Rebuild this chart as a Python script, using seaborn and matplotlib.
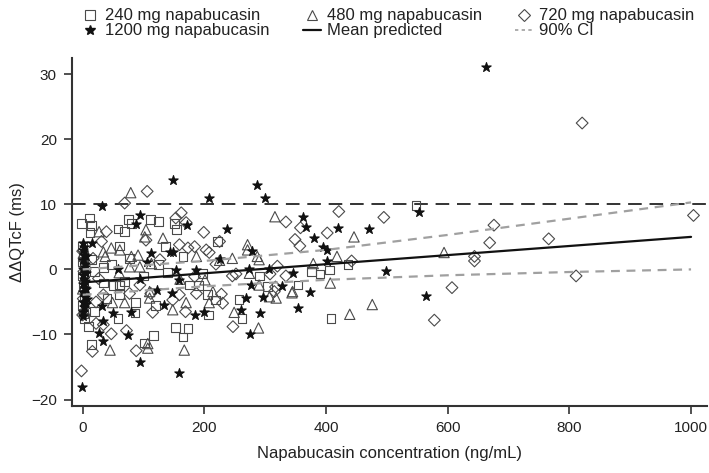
import numpy as np
import pandas as pd
import matplotlib
matplotlib.use("Agg")
import matplotlib.pyplot as plt
import seaborn as sns
from matplotlib.lines import Line2D

# ---------------------------------------------------------
# DATA
# ---------------------------------------------------------
conc_240 = [0, 1, 2, 0, 1, 2, 0, 1, 3, 0, 2,
            -2, 11, 15, 12, 75, 80, 112, 124, 58, 69, 151, 154, 61, 136, 34, 47, 20,
            124, 34, 60, 69, 165, 15, 102, 116, 165, 153, 173, 9, 58, 19, 86, 87, 120,
            50, 61, 60, 176, 190, 205, 218, 207, 262, 257, 304, 354, 291, 197, 222,
            436, 406, 376, 390, 408, 548, 14, 40, 100, 140, 77]
dqt_240 = [3.5, 2.0, 0.5, -1.0, -2.5, -4.0, -5.5, -6.8, -7.5, 1.2, -3.2,
           7.1, 7.9, 6.8, 5.7, 7.7, 7.1, 7.7, 7.4, 6.2, 5.8, 7.1, 6.1, 3.6, 3.5, 0.3, 0.7, -0.3,
           0.7, -2.1, -2.4, -1.9, 2.0, -11.5, -11.3, -10.1, -10.4, -8.9, -9.1, -8.8, -7.5, -6.5, -6.7, -5.1, -5.6,
           -2.5, -2.5, -3.8, -2.4, -2.5, -3.9, -4.7, -7.0, -7.5, -4.6, -2.6, -2.4, -1.0, -0.6, 4.3,
           0.7, -0.1, -0.3, -0.7, -7.5, 9.8, 1.5, -4.5, -1.0, -0.5, 1.7]

conc_480 = [1, 0, 2,
            79, 27, 104, 102, 47, 34, 61, 132, 80, 91, 77, 94, 113, 37, 45, 107, 107,
            167, 49, 69, 148, 110, 170, 110, 187, 225, 201, 214, 208, 249, 289, 307,
            318, 344, 274, 290, 345, 407, 476, 439, 316, 446, 271, 271, 246, 287, 290,
            418, 379, 594, 160, 60]
dqt_480 = [2.5, -3.0, -6.0,
           11.8, 5.8, 6.1, 5.0, 3.3, 2.7, 3.0, 4.8, 2.0, 2.2, 0.4, 0.4, 0.9, 2.0, -12.4, -11.4, -12.1,
           -12.4, -5.1, -5.1, -6.2, -4.4, -5.1, -3.4, 2.0, 1.4, -1.6, -3.4, -5.1, -6.6, -9.0, -4.2,
           -4.4, -3.6, -0.6, -2.4, -3.4, -2.1, -5.4, -6.9, 8.1, 5.0, 3.8, 3.0, 1.7, 2.0, 1.5,
           2.0, 0.9, 2.6, -1.5, -0.5]

conc_720 = [0, 2, 1, 0,
            106, 69, 162, 153, 170, 39, 104, 31, 159, 173, 127, 17, 26, -2, 16, 88,
            47, 72, 22, 34, 22, 115, 112, 159, 148, 169, 34, 77, 94, 187, 230, 228,
            247, 315, 317, 199, 225, 203, 208, 219, 184, 184, 246, 252, 308, 334, 320,
            334, 421, 495, 358, 402, 349, 357, 442, 676, 669, 766, 644, 644, 811, 607,
            578, 821, 1004]
dqt_720 = [2.8, -0.3, -4.5, -7.0,
           12.0, 10.2, 8.7, 7.9, 7.2, 5.8, 4.5, 4.3, 3.8, 3.3, 1.5, 1.7, -1.4, -15.6, -12.6, -12.5,
           -9.9, -9.4, -8.3, -8.5, -5.0, -6.6, -3.7, -3.9, -4.7, -6.5, -3.9, -3.7, -2.4, -3.7, -5.2, -3.8,
           -8.8, -3.4, -2.7, 5.7, 4.3, 3.0, 2.6, 0.8, 3.5, -1.1, -1.0, -0.7, -0.7, -1.0, 0.5,
           7.3, 8.9, 8.0, 6.4, 5.6, 4.6, 3.6, 1.3, 6.8, 4.1, 4.7, 2.0, 1.3, -1.0, -2.8,
           -7.8, 22.5, 8.3]

conc_1200 = [0, 1, 2, 0, 3, 1, 0, 2, 1, 0, 3, 1, 2, 0, 1, 4, 5, 4, 6, 5, 3, 2, 6, 7,
             148, 31, 94, 88, 171, 15, 143, 148, 113, 105, 58, 94, 154, 159, -1, 94,
             159, 33, 27, 75, 34, 50, 31, 79, 122, 134, 146, 185, 200, 208, 287, 300,
             362, 237, 367, 420, 470, 381, 395, 402, 278, 402, 226, 186, 274, 307, 345,
             499, 276, 327, 373, 354, 291, 275, 260, 268, 297, 553, 565, 663]
dqt_1200 = [4.0, 3.0, 2.2, 1.5, 0.8, 0.0, -0.8, -1.5, -2.2, -3.5, -4.2, -5.0, -5.8, -6.5, -7.2,
            -1.8, -3.0, 0.3, 2.0, -5.3, -2.8, 3.5, -0.6, -4.6,
            13.7, 9.7, 8.4, 7.0, 6.8, 4.0, 2.7, 2.6, 2.5, 1.2, 0.0, -1.4, -0.1, -1.6, -18.1, -14.3,
            -15.9, -11.0, -9.7, -10.1, -8.0, -6.7, -5.6, -6.5, -3.2, -5.5, -3.6, -7.0, -6.5, 11.0, 13.0, 11.0,
            8.0, 6.2, 6.5, 6.3, 6.2, 4.8, 3.4, 3.0, 2.8, 1.3, 1.6, -0.1, 0.1, 0.1, -0.5,
            -0.2, -2.4, -2.6, -3.4, -5.9, -6.7, -10.0, -6.2, -4.4, -4.2, 8.8, -4.1, 31.1]

# model prediction and 90% CI
pred_conc = [0, 200, 400, 600, 800, 1000]
pred_mean = [-2.0, -0.6, 0.8, 2.2, 3.6, 5.0]
pred_upper = [0.0, 1.3, 3.0, 5.3, 7.8, 10.3]
pred_lower = [-3.9, -2.6, -1.6, -0.9, -0.4, 0.0]

x_ticks = [0, 200, 400, 600, 800, 1000]
y_ticks = [-20, -10, 0, 10, 20, 30]
threshold = 10

# ---------------------------------------------------------
# PLOT
# ---------------------------------------------------------
sns.set_style("ticks")
plt.rcParams['font.family'] = ['Liberation Sans', 'DejaVu Sans']
plt.rcParams['font.size'] = 12

fig = plt.figure(figsize=(7.09, 4.73), dpi=100)
ax = fig.add_axes([0.1016, 0.1416, 0.8954, 0.7358])

edge = '#4a4a4a'
groups = [
    ('240 mg napabucasin', conc_240, dqt_240, 's', 40, 'none', edge),
    ('480 mg napabucasin', conc_480, dqt_480, '^', 55, 'none', edge),
    ('720 mg napabucasin', conc_720, dqt_720, 'D', 36, 'none', edge),
    ('1200 mg napabucasin', conc_1200, dqt_1200, '*', 50, '#111111', '#111111'),
]
for label, xs, ys, mk, sz, fc, ec in groups:
    df = pd.DataFrame({'conc': xs, 'dqt': ys})
    sns.scatterplot(data=df, x='conc', y='dqt', ax=ax, marker=mk, s=sz,
                    facecolor=fc, edgecolor=ec, linewidth=0.8, zorder=3)

pred = pd.DataFrame({'conc': pred_conc, 'mean': pred_mean,
                     'upper': pred_upper, 'lower': pred_lower})
sns.lineplot(data=pred, x='conc', y='mean', ax=ax, color='#111111', lw=1.6, zorder=4)
sns.lineplot(data=pred, x='conc', y='upper', ax=ax, color='#a0a0a0', lw=1.6, zorder=4)
ax.lines[-1].set_linestyle((0, (4, 3)))
sns.lineplot(data=pred, x='conc', y='lower', ax=ax, color='#a0a0a0', lw=1.6, zorder=4)
ax.lines[-1].set_linestyle((0, (4, 3)))

ax.axhline(threshold, color='#333333', lw=1.4, ls=(0, (7, 4)), zorder=2)

ax.set_xlim(-17.5, 1026)
ax.set_ylim(-21, 32.5)
ax.set_xticks(x_ticks)
ax.set_yticks(y_ticks)
ax.tick_params(direction='out', length=6, width=1.2, pad=5, colors='#333333',
               labelcolor='#222222', labelsize=11)
for sp in ['left', 'bottom']:
    ax.spines[sp].set_linewidth(1.5)
    ax.spines[sp].set_color('#333333')
sns.despine(ax=ax)

ax.set_xlabel('Napabucasin concentration (ng/mL)', fontsize=12, labelpad=8, color='#222222')
ax.set_ylabel('ΔΔQTcF (ms)', fontsize=12, labelpad=4, color='#222222')

handles = [
    Line2D([], [], ls='none', marker='s', ms=6.5, mfc='none', mec=edge, mew=0.8),
    Line2D([], [], ls='none', marker='*', ms=7, mfc='#111111', mec='#111111'),
    Line2D([], [], ls='none', marker='^', ms=7, mfc='none', mec=edge, mew=0.8),
    Line2D([], [], color='#111111', lw=1.6),
    Line2D([], [], ls='none', marker='D', ms=6, mfc='none', mec=edge, mew=0.8),
    Line2D([], [], color='#a0a0a0', lw=1.2, ls=(0, (2, 2))),
]
labels = ['240 mg napabucasin', '1200 mg napabucasin', '480 mg napabucasin',
          'Mean predicted', '720 mg napabucasin', '90% CI']
fig.legend(handles, labels, ncol=3, loc='upper left', bbox_to_anchor=(0.093, 1.014),
           frameon=False, handlelength=1.1, handletextpad=0.34, columnspacing=2.0,
           labelspacing=0.0, fontsize=12, labelcolor='#222222')

plt.savefig('out.png', dpi=100)
plt.close()
